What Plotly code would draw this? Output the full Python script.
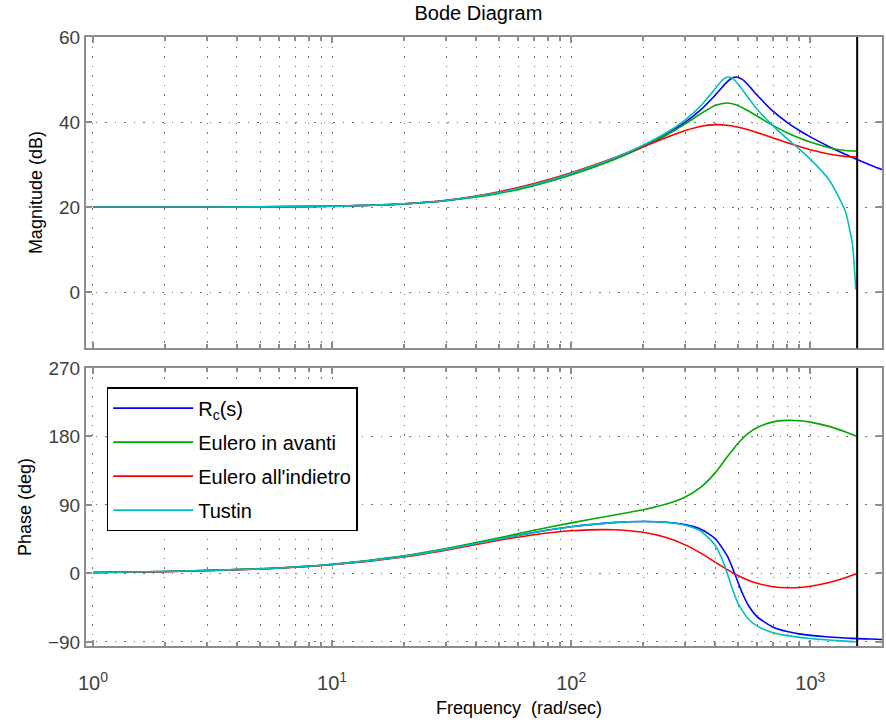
import plotly.graph_objects as go

# ---------------- data ----------------
W_RC = [1, 2, 5, 10, 20, 30, 50, 70, 100, 150, 200, 250, 300, 350, 400, 450,
        470, 490, 520, 550, 600, 700, 800, 900, 1000, 1200, 1400, 1570, 1800, 2000]
RC_MAG = [20.0, 20.01, 20.05, 20.19, 20.75, 21.54, 23.43, 25.3, 27.85, 31.4, 34.4,
          37.2, 40.0, 42.98, 46.3, 49.5, 50.31, 50.6, 50.02, 48.7, 46.3, 42.5, 39.9,
          38.0, 36.5, 34.2, 32.41, 31.2, 29.79, 28.8]
RC_PHASE = [1.2, 2.5, 6.0, 11.8, 22.5, 31.7, 45.2, 53.8, 61.3, 66.8, 68.2, 67.4, 64.2,
            57.9, 46.0, 22.8, 9.3, -5.4, -26.0, -41.4, -57.0, -70.6, -76.3, -79.4,
            -81.3, -83.5, -84.8, -85.6, -86.2, -86.7]

W_EULER = [1, 2, 5, 10, 20, 30, 50, 70, 100, 150, 200, 250, 300, 350, 400, 450, 500,
           550, 600, 700, 800, 900, 1000, 1200, 1400, 1570]
FE_MAG = [20.0, 20.01, 20.05, 20.19, 20.73, 21.50, 23.21, 25.04, 27.55, 31.08, 34.1,
          36.90, 39.57, 42.03, 43.87, 44.47, 43.84, 42.64, 41.36, 39.16, 37.49, 36.22,
          35.3, 33.96, 33.29, 33.12]
FE_PHASE = [1.2, 2.5, 6.3, 12.2, 23.2, 32.7, 46.8, 56.75, 66.5, 76.5, 83.7, 91.15,
            100.5, 113.8, 132.2, 153.4, 171.5, 184.0, 191.7, 199.2, 201.2, 200.7,
            198.9, 193.3, 186.3, 180.0]
BE_MAG = [20.0, 20.01, 20.05, 20.2, 20.78, 21.6, 23.62, 25.55, 28.09, 31.49, 34.2,
          36.35, 37.98, 39.0, 39.38, 39.25, 38.79, 38.18, 37.51, 36.24, 35.14, 34.24,
          33.5, 32.48, 31.92, 31.77]
BE_PHASE = [1.1, 2.3, 5.8, 11.4, 21.8, 30.7, 43.6, 50.9, 56.1, 57.5, 54.1, 47.17,
            37.6, 26.4, 15.0, 5.0, -2.9, -8.8, -12.9, -17.4, -18.8, -18.4, -16.9,
            -11.95, -5.7, 0.0]

W_TUSTIN = [1, 2, 5, 10, 20, 30, 50, 70, 100, 150, 200, 250, 300, 350, 400, 430, 450,
            470, 500, 550, 600, 700, 800, 900, 1000, 1200, 1400, 1500, 1550]
TU_MAG = [20.0, 20.01, 20.05, 20.19, 20.75, 21.54, 23.43, 25.3, 27.9, 31.45, 34.54,
          37.47, 40.53, 43.95, 47.84, 49.89, 50.58, 50.39, 48.88, 45.71, 42.99, 39.03,
          36.08, 33.6, 31.27, 26.36, 19.06, 11.29, 0.62]
TU_PHASE = [1.2, 2.5, 6.0, 11.8, 22.5, 31.7, 45.2, 53.8, 61.4, 66.8, 68.2, 67.1, 63.3,
            55.2, 37.2, 17.2, -0.2, -18.3, -39.8, -59.6, -69.2, -77.8, -81.7, -84.0,
            -85.5, -87.5, -88.9, -89.5, -89.9]

NYQUIST = 1570.8

SERIES = [
    ("R<sub>c</sub>(s)", "rc", W_RC, RC_MAG, RC_PHASE, "#0000ff"),
    ("Eulero in avanti", "fe", W_EULER, FE_MAG, FE_PHASE, "#00a800"),
    ("Eulero all'indietro", "be", W_EULER, BE_MAG, BE_PHASE, "#ff0000"),
    ("Tustin", "tu", W_TUSTIN, TU_MAG, TU_PHASE, "#00bfbf"),
]

X_TICKS = [1, 10, 100, 1000]
X_TICK_TEXT = ["10<sup>0</sup>", "10<sup>1</sup>", "10<sup>2</sup>", "10<sup>3</sup>"]
X_MINOR = [m * d for d in (1, 10, 100, 1000) for m in range(2, 10)]
MAG_TICKS = [0, 20, 40, 60]
PHASE_TICKS = [-90, 0, 90, 180, 270]

# ---------------- figure ----------------
fig = go.Figure()
for name, grp, w, mag, ph, col in SERIES:
    fig.add_trace(go.Scatter(x=w, y=mag, mode="lines", name=name, legendgroup=grp,
                             showlegend=False, line=dict(color=col, width=1.6,
                             shape="spline", smoothing=0.6),
                             xaxis="x", yaxis="y"))
for name, grp, w, mag, ph, col in SERIES:
    fig.add_trace(go.Scatter(x=w, y=ph, mode="lines", name=name, legendgroup=grp,
                             showlegend=True, line=dict(color=col, width=1.6,
                             shape="spline", smoothing=0.6),
                             xaxis="x2", yaxis="y2"))

GRIDCOL = "#6e6e6e"
GRIDDASH = "1.5px,8px"
GRID = dict(showgrid=True, gridcolor=GRIDCOL, griddash=GRIDDASH, gridwidth=1.2)
FRAME = dict(showline=True, linecolor="#8c8c8c", linewidth=2, mirror="ticks",
             ticks="inside", tickcolor="#8c8c8c", ticklen=6, tickwidth=1.5,
             zeroline=False)
XR = [-0.029, 3.300]

xcommon = dict(type="log", range=XR, tickmode="array", tickvals=X_TICKS,
               ticktext=X_TICK_TEXT,
               minor=dict(tickmode="array", tickvals=X_MINOR, ticks="inside",
                          ticklen=4, tickcolor="#8c8c8c", showgrid=True,
                          gridcolor=GRIDCOL, griddash=GRIDDASH, gridwidth=1.2),
               **GRID, **FRAME)

TICKFONT = dict(size=19, color="#404040")

fig.update_layout(
    width=886, height=726,
    margin=dict(l=86, r=2, t=37, b=80),
    paper_bgcolor="white", plot_bgcolor="white",
    font=dict(family="Liberation Sans, Arial, sans-serif", size=18, color="#404040"),
    title=dict(text="Bode Diagram", x=0.493, xref="paper", y=1 - 13 / 726,
               yanchor="middle", xanchor="center",
               font=dict(size=20, color="black")),
    xaxis=dict(domain=[0, 1], anchor="y", showticklabels=False, **xcommon),
    yaxis=dict(domain=[0.489, 1], anchor="x", range=[-13.2, 60], tickmode="array",
               tickvals=MAG_TICKS, tickfont=TICKFONT,
               title=dict(text="Magnitude (dB)", standoff=12,
                          font=dict(color="black", size=18)), **GRID, **FRAME),
    xaxis2=dict(domain=[0, 1], anchor="y2", showticklabels=True,
                ticklabelstandoff=18,
                tickfont=dict(size=20, color="#404040"), **xcommon),
    yaxis2=dict(domain=[0, 0.4565], anchor="x2", range=[-95.3, 270], tickmode="array",
                tickvals=PHASE_TICKS, tickfont=TICKFONT,
                title=dict(text="Phase (deg)", standoff=12,
                           font=dict(color="black", size=18)), **GRID, **FRAME),
    legend=dict(x=0.026, y=0.425, xanchor="left", yanchor="top", bgcolor="white",
                bordercolor="black", borderwidth=1.5, traceorder="grouped",
                tracegroupgap=5, itemwidth=80, entrywidth=201,
                font=dict(size=20, color="black")),
    annotations=[dict(text="Frequency  (rad/sec)", xref="paper", yref="paper",
                      x=(520 - 86) / 798, y=(646 - 708) / 609, xanchor="center",
                      yanchor="middle", showarrow=False,
                      font=dict(size=18, color="black"))],
)

for xr, yr in (("x", "y domain"), ("x2", "y2 domain")):
    fig.add_shape(type="line", xref=xr, yref=yr, x0=NYQUIST, x1=NYQUIST, y0=0, y1=1,
                  line=dict(color="black", width=2), layer="above")

fig.write_html("out.html")
